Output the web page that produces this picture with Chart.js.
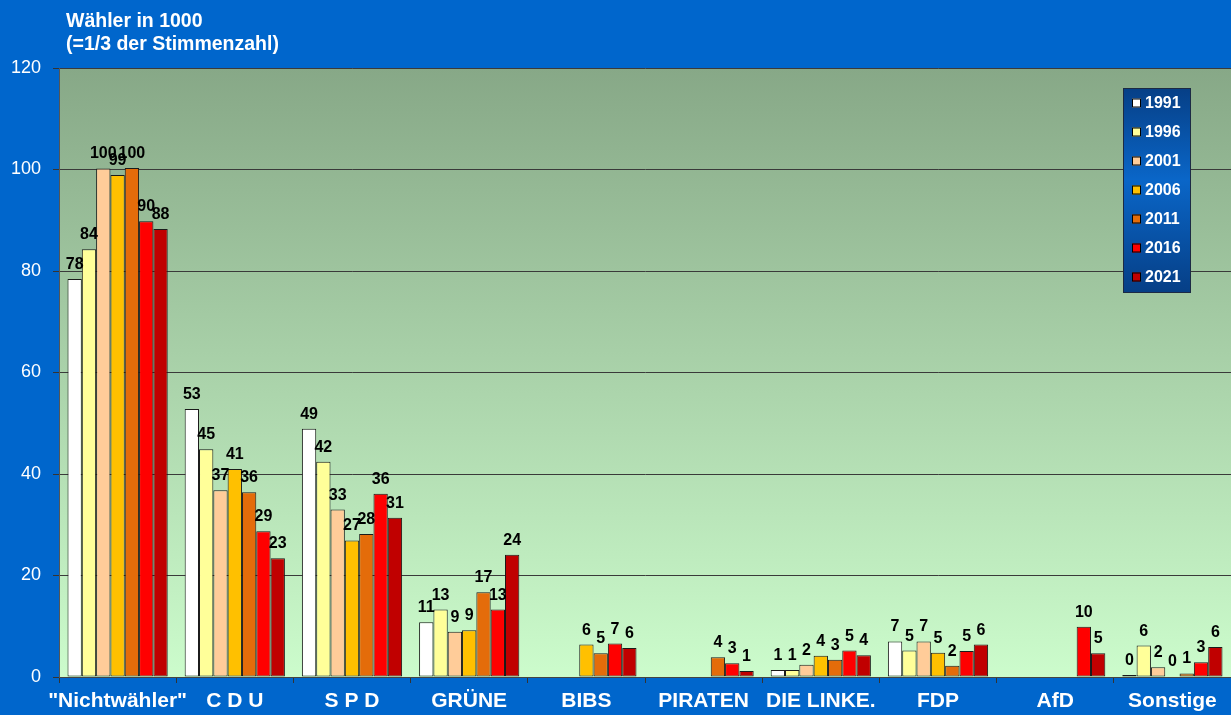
<!DOCTYPE html>
<html>
<head>
<meta charset="utf-8">
<script src="https://cdn.jsdelivr.net/npm/chart.js@4"></script>
<style>
  html, body { margin: 0; padding: 0; background: #0066CC; }
  #wrap { width: 1231px; height: 715px; }
</style>
</head>
<body>
<div id="wrap"><canvas id="myChart" width="1231" height="715"></canvas></div>
<script>
// data
const parties = ['"Nichtwähler"', 'C D U', 'S P D', 'GRÜNE', 'BIBS', 'PIRATEN', 'DIE LINKE.', 'FDP', 'AfD', 'Sonstige']
const years = ['1991', '1996', '2001', '2006', '2011', '2016', '2021']
const v1991 = [78.4, 52.8, 48.9, 10.8, null, null, 1.4, 7.0, null, 0.4]
const v1996 = [84.3, 44.9, 42.4, 13.3, null, null, 1.4, 5.2, null, 6.2]
const v2001 = [100.2, 36.8, 33.0, 8.9, null, null, 2.4, 7.0, null, 1.9]
const v2006 = [98.9, 41.0, 26.9, 9.2, 6.4, null, 4.2, 4.8, null, 0.1]
const v2011 = [100.3, 36.4, 28.2, 16.7, 4.7, 3.9, 3.4, 2.2, null, 0.7]
const v2016 = [89.8, 28.7, 36.1, 13.3, 6.6, 2.7, 5.2, 5.1, 9.9, 2.9]
const v2021 = [88.3, 23.4, 31.4, 24.1, 5.7, 1.2, 4.3, 6.4, 4.7, 5.9]
const yTicks = [0, 20, 40, 60, 80, 100, 120]

const colors = ['#FFFFFF', '#FFFF99', '#FFCC99', '#FFC000', '#E46C0A', '#FF0000', '#C00000']
const series = [v1991, v1996, v2001, v2006, v2011, v2016, v2021]
const fontFam = 'Arial, "Liberation Sans", sans-serif'

// background, title and boxed legend
const decor = {
    id: 'decor',
    beforeDraw: (chart) => {
        const { ctx, chartArea } = chart
        ctx.save()
        ctx.fillStyle = '#0066CC'
        ctx.fillRect(0, 0, chart.width, chart.height)
        const g = ctx.createLinearGradient(0, chartArea.top, 0, chartArea.bottom)
        g.addColorStop(0, '#87A887')
        g.addColorStop(1, '#CCFCCC')
        ctx.fillStyle = g
        ctx.fillRect(chartArea.left, chartArea.top, chartArea.right - chartArea.left, chartArea.bottom - chartArea.top)
        ctx.restore()
    },
    afterDraw: (chart) => {
        const { ctx } = chart
        ctx.save()
        ctx.fillStyle = '#FFFFFF'
        ctx.font = 'bold 19.5px ' + fontFam
        ctx.textBaseline = 'alphabetic'
        ctx.fillText('Wähler in 1000', 66, 27)
        ctx.fillText('(=1/3 der Stimmenzahl)', 66, 50)

        // legend box
        const lx = 1123, ly = 88, lw = 67, lh = 204
        const lg = ctx.createLinearGradient(0, ly, 0, ly + lh)
        lg.addColorStop(0, '#063F86')
        lg.addColorStop(0.45, '#0A66C8')
        lg.addColorStop(1, '#063F86')
        ctx.fillStyle = lg
        ctx.fillRect(lx, ly, lw, lh)
        ctx.strokeStyle = '#1C2A44'
        ctx.lineWidth = 1
        ctx.strokeRect(lx + 0.5, ly + 0.5, lw, lh)
        ctx.font = 'bold 16px ' + fontFam
        ctx.textBaseline = 'middle'
        chart.data.datasets.forEach((ds, i) => {
            const cy = 103 + i * 29
            ctx.fillStyle = ds.backgroundColor
            ctx.fillRect(1132, cy - 4.5, 9, 9)
            ctx.strokeStyle = '#000000'
            ctx.strokeRect(1132.5, cy - 4, 8, 8)
            ctx.fillStyle = '#FFFFFF'
            ctx.fillText(ds.label, 1145, cy + 1)
        })
        ctx.restore()
    }
}

// value labels on top of bars
const valueLabels = {
    id: 'valueLabels',
    afterDatasetsDraw: (chart) => {
        const { ctx } = chart
        ctx.save()
        ctx.font = 'bold 16px ' + fontFam
        ctx.fillStyle = '#000000'
        ctx.textAlign = 'center'
        ctx.textBaseline = 'alphabetic'
        chart.data.datasets.forEach((ds, i) => {
            const meta = chart.getDatasetMeta(i)
            meta.data.forEach((bar, j) => {
                const v = ds.data[j]
                if (v === null || v === undefined) return
                ctx.fillText(String(Math.round(v)), bar.x, bar.y - 10)
            })
        })
        ctx.restore()
    }
}

const ctx = document.getElementById('myChart')
new Chart(ctx, {
    type: 'bar',
    data: {
        labels: parties,
        datasets: years.map((y, i) => ({
            label: y,
            data: series[i],
            backgroundColor: colors[i],
            borderColor: '#1A1A1A',
            borderWidth: 1,
            borderSkipped: false,
            categoryPercentage: 0.855,
            barPercentage: 1.0
        }))
    },
    options: {
        responsive: false,
        animation: false,
        layout: { padding: { top: 68, right: 0, left: 0, bottom: 0 } },
        plugins: {
            legend: { display: false },
            title: { display: false },
            tooltip: { enabled: false }
        },
        scales: {
            x: {
                grid: {
                    display: true,
                    drawOnChartArea: false,
                    drawTicks: true,
                    tickLength: 6,
                    tickColor: '#333333',
                    offset: true
                },
                border: { display: true, color: '#444444', width: 1 },
                ticks: {
                    color: '#FFFFFF',
                    font: { family: fontFam, size: 21, weight: 'bold' },
                    padding: 6,
                    maxRotation: 0,
                    autoSkip: false
                },
                afterFit: (scale) => { scale.height = 38 }
            },
            y: {
                min: 0,
                max: 120,
                afterBuildTicks: (scale) => { scale.ticks = yTicks.map(v => ({ value: v })) },
                grid: {
                    color: '#3A3A3A',
                    lineWidth: 1,
                    drawTicks: true,
                    tickLength: 6,
                    tickColor: '#333333'
                },
                border: { display: true, color: '#555555', width: 1 },
                ticks: {
                    color: '#FFFFFF',
                    font: { family: fontFam, size: 18 },
                    padding: 12
                },
                afterFit: (scale) => { scale.width = 59 }
            }
        }
    },
    plugins: [decor, valueLabels]
})
</script>
</body>
</html>
